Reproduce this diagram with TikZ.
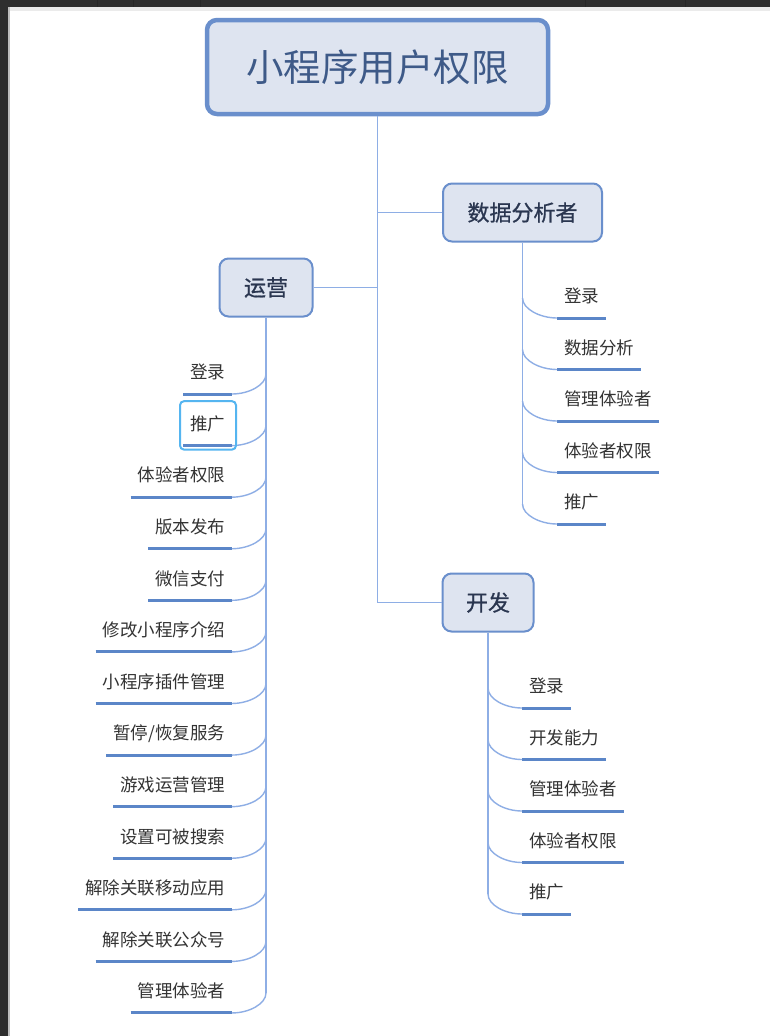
\documentclass[tikz,border=0pt]{standalone}
\usepackage{fontspec}
\setmainfont{Noto Sans CJK SC}
\newfontfamily\boxfont[FakeBold=0.8]{Noto Sans CJK SC}
\usetikzlibrary{calc}
\definecolor{boxfill}{HTML}{DEE4F0}
\definecolor{boxline}{HTML}{6A8FCC}
\definecolor{roottxt}{HTML}{3E5A88}
\definecolor{boxtxt}{HTML}{2A3650}
\definecolor{connc}{HTML}{8EAEE5}
\definecolor{ulc}{HTML}{5B86C8}
\definecolor{leaftxt}{HTML}{333333}
\definecolor{selc}{HTML}{55B5F0}
\definecolor{darkbar}{HTML}{2E2E2E}
\tikzset{
  rootbox/.style={draw=boxline, line width=4.5pt, fill=boxfill, rounded corners=10pt,
    minimum width=341pt, minimum height=94pt, inner sep=0pt, text=roottxt,
    font=\fontsize{37.5}{40}\selectfont},
  topicbox/.style={draw=boxline, line width=2pt, fill=boxfill, rounded corners=9pt,
    minimum height=58pt, inner sep=0pt, text=boxtxt,
    font=\boxfont\fontsize{22}{26}\selectfont},
  leafnode/.style={font=\fontsize{17.5}{20}\selectfont, text=leaftxt,
    inner xsep=6.8pt, inner ysep=11pt, text height=13pt, text depth=4pt},
  conn/.style={draw=connc, line width=1.4pt},
  uline/.style={draw=ulc, line width=3pt},
  sel/.style={draw=selc, line width=2pt, rounded corners=4pt}
}
\begin{document}
\begin{tikzpicture}[x=1pt,y=-1pt]
\useasboundingbox (0,0) rectangle (770,1036);
\fill[white] (0,0) rectangle (770,1036);
% window chrome
\fill[darkbar] (0,0) rectangle (770,7);
\fill[darkbar] (0,0) rectangle (8,1036);
\fill[black!8] (8,7) rectangle (770,11);
\fill[black!25] (8,7) rectangle (9.5,1036);
\foreach \xx in {97,133,200,585,685} \fill[black!85] (\xx,0) rectangle ({\xx+1.2},7);

% main boxes
\node[rootbox] (root) at (377.5,67) {小程序用户权限};
\node[topicbox, minimum width=159pt] (sj) at (522.5,212.5) {数据分析者};
\node[topicbox, minimum width=93pt] (yy) at (266,287.5) {运营};
\node[topicbox, minimum width=91pt] (kf) at (488,602.5) {开发};

% main trunk and branches
\draw[conn] (root.south) -- (root.south |- kf.west);
\draw[conn] (root.south |- sj.west) -- (sj.west);
\draw[conn] (root.south |- yy.east) -- (yy.east);
\draw[conn] (root.south |- kf.west) -- (kf.west);

% 运营 children (left)
\foreach \i/\t in {1/登录,2/推广,3/体验者权限,4/版本发布,5/微信支付,6/修改小程序介绍,7/小程序插件管理,8/{暂停/恢复服务},9/游戏运营管理,10/设置可被搜索,11/解除关联移动应用,12/解除关联公众号,13/管理体验者}{
  \node[leafnode, anchor=south east] (y\i) at (232,{394+51.58*(\i-1)}) {\t};
  \draw[uline] (y\i.south west) -- (y\i.south east);
  \draw[conn] ($(yy.south |- y\i.south)+(0,-20)$) .. controls +(0,11) and +(17,0) .. (y\i.south east);
}
\draw[conn] (yy.south) -- ($(yy.south |- y13.south)+(0,-20)$);
\draw[sel] ($(y2.north west)+(-3,-5)$) rectangle ($(y2.south east)+(4,4)$);

% 数据分析者 children (right)
\foreach \i/\t in {1/登录,2/数据分析,3/管理体验者,4/体验者权限,5/推广}{
  \node[leafnode, anchor=south west] (s\i) at (557,{318+51.5*(\i-1)}) {\t};
  \draw[uline] (s\i.south west) -- (s\i.south east);
  \draw[conn] ($(sj.south |- s\i.south)+(0,-20)$) .. controls +(0,11) and +(-17,0) .. (s\i.south west);
}
\draw[conn] (sj.south) -- ($(sj.south |- s5.south)+(0,-20)$);

% 开发 children (right)
\foreach \i/\t in {1/登录,2/开发能力,3/管理体验者,4/体验者权限,5/推广}{
  \node[leafnode, anchor=south west] (k\i) at (522,{708+51.5*(\i-1)}) {\t};
  \draw[uline] (k\i.south west) -- (k\i.south east);
  \draw[conn] ($(kf.south |- k\i.south)+(0,-20)$) .. controls +(0,11) and +(-17,0) .. (k\i.south west);
}
\draw[conn] (kf.south) -- ($(kf.south |- k5.south)+(0,-20)$);
\end{tikzpicture}
\end{document}
